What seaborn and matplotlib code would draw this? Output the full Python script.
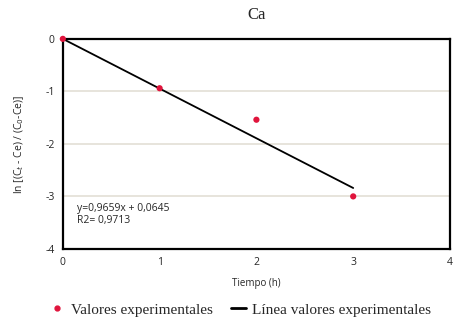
import numpy as np
import pandas as pd
import matplotlib
matplotlib.use("Agg")
import matplotlib.pyplot as plt
import seaborn as sns
from matplotlib.lines import Line2D

# data
tiempo = [0, 1, 2, 3]
valores = [0.0, -0.94, -1.54, -3.0]
linea_x = [0, 3]
linea_y = [0.0, -2.84]

sns.set_style("white")
plt.rcParams['font.family'] = ['Open Sans', 'DejaVu Sans']
plt.rcParams['axes.unicode_minus'] = False

fig = plt.figure(figsize=(4.62, 3.35), dpi=100)
ax = fig.add_axes([0.136, 0.257, 0.838, 0.627])

df = pd.DataFrame({'Tiempo': tiempo, 'Valor': valores})
df_line = pd.DataFrame({'x': linea_x, 'y': linea_y})

sns.lineplot(data=df_line, x='x', y='y', color='black', linewidth=1.3, ax=ax)
sns.scatterplot(data=df, x='Tiempo', y='Valor', color='#e0143c', s=20,
                edgecolor='none', ax=ax, zorder=5, clip_on=False)

ax.set_xlim(0, 4)
ax.set_ylim(-4, 0)
ax.set_xticks([0, 1, 2, 3, 4])
ax.set_yticks([0, -1, -2, -3, -4])
for yv in [-1, -2, -3]:
    ax.axhline(yv, color='#e3dfd6', linewidth=1.2, zorder=0)
ax.tick_params(axis='both', length=0, labelsize=7.5, pad=6)
for s in ax.spines.values():
    s.set_color('black')
    s.set_linewidth(1.6)

ax.set_xlabel('Tiempo (h)', fontsize=7, labelpad=7)
ax.set_ylabel(r'ln [(C$_t$ - Ce) / (C$_0$-Ce)]', fontsize=7.5, labelpad=14)
ax.set_title('Ca', fontsize=12, family='Liberation Serif', pad=14)

ax.text(0.15, -3.35, 'y=0,9659x + 0,0645\nR2= 0,9713', fontsize=7.5,
        va='center', ha='left', linespacing=1.1)

handles = [
    Line2D([], [], marker='o', color='#e0143c', linestyle='none', markersize=3.5),
    Line2D([], [], color='black', linewidth=2),
]
fig.legend(handles, ['Valores experimentales', 'Línea valores experimentales'],
           loc='center', bbox_to_anchor=(0.52, 0.075), ncol=2, frameon=False,
           prop={'family': 'Liberation Serif', 'size': 11},
           handlelength=1.0, handletextpad=0.4, columnspacing=1.2)

fig.savefig('out.png', dpi=100)
